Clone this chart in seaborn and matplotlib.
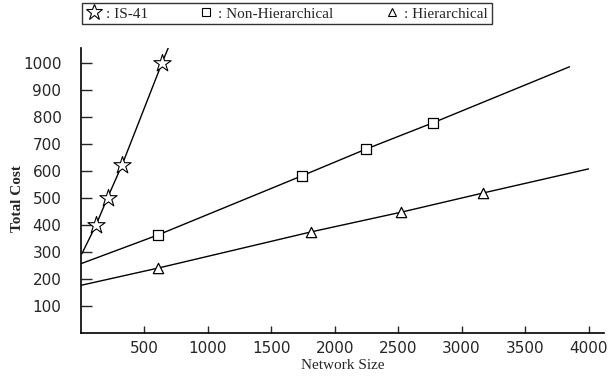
import seaborn as sns
import matplotlib.pyplot as plt
from matplotlib.lines import Line2D

# line paths (start / end segments have no marker in the original)
is41_line_x = [8, 120, 210, 325, 640, 700]
is41_line_y = [293, 400, 500, 622, 1000, 1068]
is41_mark_x = [120, 210, 325, 640]
is41_mark_y = [400, 500, 622, 1000]

nonh_line_x = [0, 605, 1745, 2245, 2776, 3850]
nonh_line_y = [256, 362, 582, 680, 778, 985]
nonh_mark_x = [605, 1745, 2245, 2776]
nonh_mark_y = [362, 582, 680, 778]

hier_line_x = [0, 610, 1816, 2526, 3171, 4000]
hier_line_y = [176, 240, 374, 447, 518, 607]
hier_mark_x = [610, 1816, 2526, 3171]
hier_mark_y = [240, 374, 447, 518]

xticks = [500, 1000, 1500, 2000, 2500, 3000, 3500, 4000]
yticks = [100, 200, 300, 400, 500, 600, 700, 800, 900, 1000]
labels = [": IS-41", ": Non-Hierarchical", ": Hierarchical"]

sns.set_style("ticks")
plt.rcParams["font.family"] = ["DejaVu Sans"]

fig = plt.figure(figsize=(6.08, 3.8), dpi=100)
ax = fig.add_axes([0.133, 0.124, 0.86, 0.75])

for lx, ly in [(is41_line_x, is41_line_y), (nonh_line_x, nonh_line_y), (hier_line_x, hier_line_y)]:
    sns.lineplot(x=lx, y=ly, color="black", lw=1, sort=False, estimator=None, ax=ax)

sns.scatterplot(x=is41_mark_x, y=is41_mark_y, marker="*", s=170, facecolor="white",
                edgecolor="black", linewidth=0.8, zorder=3, ax=ax)
sns.scatterplot(x=nonh_mark_x, y=nonh_mark_y, marker="s", s=55, facecolor="white",
                edgecolor="black", linewidth=0.9, zorder=3, ax=ax)
sns.scatterplot(x=hier_mark_x, y=hier_mark_y, marker="^", s=55, facecolor="white",
                edgecolor="black", linewidth=0.9, zorder=3, ax=ax)

ax.set_xlim(0, 4120)
ax.set_ylim(0, 1055)
ax.set_xticks(xticks)
ax.set_yticks(yticks)
ax.tick_params(axis="y", direction="in", length=8, width=1, pad=14, labelsize=11)
ax.tick_params(axis="x", direction="in", length=5, width=1, pad=6, labelsize=11)
sns.despine(ax=ax)
for s in ["left", "bottom"]:
    ax.spines[s].set_linewidth(1.2)
    ax.spines[s].set_color("black")

ax.set_xlabel("Network Size", family="Liberation Serif", fontsize=11, labelpad=2)
ax.set_ylabel("Total Cost", family="Liberation Serif", fontsize=11, fontweight="bold")
ax.yaxis.set_label_coords(-0.108, 0.47)

handles = [
    Line2D([], [], ls="none", marker="*", ms=12, mfc="white", mec="black", mew=0.8),
    Line2D([], [], ls="none", marker="s", ms=6, mfc="white", mec="black", mew=0.8),
    Line2D([], [], ls="none", marker="^", ms=6, mfc="white", mec="black", mew=0.8),
]
leg = fig.legend(handles, labels, loc="center", bbox_to_anchor=(0.472, 0.964), ncol=3,
                 frameon=True, fancybox=False, edgecolor="black", handlelength=1,
                 handletextpad=0.3, columnspacing=3.3, borderpad=0.25,
                 prop={"family": "Liberation Serif", "size": 11})
leg.get_frame().set_linewidth(1.0)

fig.savefig("out.png", dpi=100)
